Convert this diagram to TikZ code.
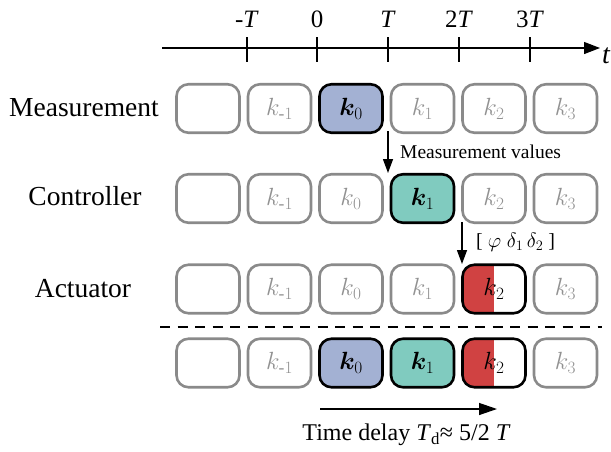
\documentclass[tikz,border=0pt]{standalone}
\usepackage{amsmath,bm}
\usepackage{fontspec}
\setmainfont{Liberation Serif}
\usetikzlibrary{arrows.meta}
\definecolor{mblue}{RGB}{163,177,211}
\definecolor{mgreen}{RGB}{128,203,191}
\definecolor{mred}{RGB}{208,66,66}
\definecolor{boxgray}{RGB}{138,138,138}
\definecolor{txtgray}{RGB}{145,145,145}
\begin{document}
\begin{tikzpicture}[x=1pt,y=-1pt,
  slot/.style={draw=boxgray, line width=2.6pt, rounded corners=12pt,
    minimum width=63pt, minimum height=48.5pt, inner sep=0pt, text=txtgray,
    font=\fontsize{25}{29}\selectfont},
  hot/.style={slot, draw=black},
  halfred/.style={hot, path picture={\fill[mred, sharp corners] (path picture bounding box.south west) rectangle (path picture bounding box.north);}},
  rowlab/.style={font=\fontsize{27.5}{32}\selectfont, inner sep=0pt},
  ticklab/.style={font=\fontsize{25}{29}\selectfont, inner sep=0pt},
  arr/.style={line width=1.3pt, -{Triangle[length=14pt,width=10pt]}},
  axis/.style={line width=1.3pt, -{Triangle[length=16pt,width=12pt]}}
]
\useasboundingbox (0,0) rectangle (611,451);

% time axis
\coordinate (ax0) at (162,48);
\coordinate (ax1) at (600,48);
\draw[axis] (ax0) -- (ax1);
\foreach \x/\l [count=\i] in {247/-\textit{T}, 317/0, 388/\textit{T}, 459/2\textit{T}, 530/3\textit{T}}{
  \coordinate (tt\i) at (\x,37);
  \coordinate (tb\i) at (\x,62);
  \draw[line width=1.3pt] (tt\i) -- (tb\i);
  \node[ticklab] (tl\i) at (\x,19) {\l};
}
\node[font=\fontsize{28}{31}\selectfont\itshape, inner sep=0pt] (tvar) at (606,56) {t};

% row labels
\node[rowlab] (lm) at (84,108) {Measurement};
\node[rowlab] (lc) at (85,196) {Controller};
\node[rowlab] (la) at (83,289) {Actuator};

% Measurement row
\node[slot] (m0) at (208,108.5) {};
\node[slot] (m1) at (279.5,108.5) {$k_{\text{-}1}$};
\node[hot, fill=mblue, text=black] (m2) at (351,108.5) {$\bm{k}_0$};
\node[slot] (m3) at (422.5,108.5) {$k_1$};
\node[slot] (m4) at (494,108.5) {$k_2$};
\node[slot] (m5) at (565.5,108.5) {$k_3$};

% Controller row
\node[slot] (c0) at (208,198.5) {};
\node[slot] (c1) at (279.5,198.5) {$k_{\text{-}1}$};
\node[slot] (c2) at (351,198.5) {$k_0$};
\node[hot, fill=mgreen, text=black] (c3) at (422.5,198.5) {$\bm{k}_1$};
\node[slot] (c4) at (494,198.5) {$k_2$};
\node[slot] (c5) at (565.5,198.5) {$k_3$};

% Actuator row
\node[slot] (a0) at (208,289) {};
\node[slot] (a1) at (279.5,289) {$k_{\text{-}1}$};
\node[slot] (a2) at (351,289) {$k_0$};
\node[slot] (a3) at (422.5,289) {$k_1$};
\node[halfred, fill=white, text=black] (a4) at (494,289) {$k_2$};
\node[slot] (a5) at (565.5,289) {$k_3$};

% dashed separator
\coordinate (d0) at (160,327);
\coordinate (d1) at (602,327);
\draw[line width=1.3pt, dash pattern=on 10pt off 7.5pt] (d0) -- (d1);

% Summary row
\node[slot] (s0) at (208,363) {};
\node[slot] (s1) at (279.5,363) {$k_{\text{-}1}$};
\node[hot, fill=mblue, text=black] (s2) at (351,363) {$\bm{k}_0$};
\node[hot, fill=mgreen, text=black] (s3) at (422.5,363) {$\bm{k}_1$};
\node[halfred, fill=white, text=black] (s4) at (494,363) {$k_2$};
\node[slot] (s5) at (565.5,363) {$k_3$};

% arrows
\coordinate (p1) at (388,131);
\coordinate (q1) at (388,173);
\draw[arr] (p1) -- (q1);
\node[font=\fontsize{19.5}{23}\selectfont, anchor=west, inner sep=0pt] (mv) at (400,152) {Measurement values};

\coordinate (p2) at (462,222);
\coordinate (q2) at (462,264);
\draw[arr] (p2) -- (q2);
\node[font=\fontsize{20}{24}\selectfont, anchor=west, inner sep=0pt] (par) at (476,242) {[ $\varphi\;\delta_1\,\delta_2$ ]};

\coordinate (p3) at (320,409);
\coordinate (q3) at (497,409);
\draw[line width=1.3pt, -{Triangle[length=18pt,width=12pt]}] (p3) -- (q3);
\node[font=\fontsize{24}{28}\selectfont, inner sep=0pt] (td) at (406.5,435) {Time delay \textit{T}\textsubscript{d}≈ 5/2 \textit{T}};
\end{tikzpicture}
\end{document}
